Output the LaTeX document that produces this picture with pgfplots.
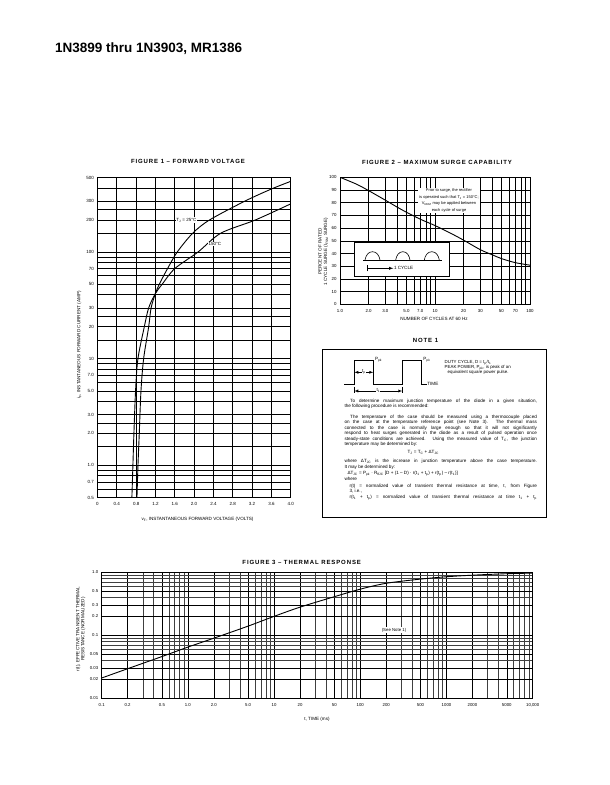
\documentclass[border=0pt]{standalone}
\usepackage{fontspec}
\setmainfont{Liberation Sans}
\newfontfamily\ttlfont{Liberation Sans}[LetterSpace=15]
\usepackage{pgfplots}
\pgfplotsset{compat=1.18}
\newcommand{\fs}[1]{\fontsize{#1}{#1}\selectfont}
\newcommand{\ttl}{\ttlfont\bfseries\fontsize{6}{7}\selectfont}
\newcommand{\nt}{\fontsize{4.6}{5}\selectfont}
\pgfplotsset{
  ds/.style={
    scale only axis, anchor=south west,
    axis line style={black, line width=0.8pt},
    grid=both,
    major grid style={black, line width=0.5pt},
    minor grid style={black, line width=0.5pt},
    major tick length=0pt, minor tick length=0pt,
    tick label style={font=\fs{4.5}},
    xticklabel style={yshift=-1.2pt},
    /pgf/number format/assume math mode=true,
  }
}
\begin{document}
\begin{tikzpicture}[x=1pt,y=1pt]
\fill[white] (0,0) rectangle (610,785);
\path[use as bounding box] (0,0) rectangle (610,785);
% page title
\node[anchor=west,font={\bfseries\fontsize{13.5}{15}\selectfont},inner sep=0] at (55,736) {1N3899 thru 1N3903, MR1386};

% ---------------- FIGURE 1 ----------------
\node[font=\ttl] at (188,624) {FIGURE 1 – FORWARD VOLTAGE};
\begin{axis}[ds, at={(97.5pt,287.5pt)}, width=193.2pt, height=320pt,
  xmin=0, xmax=4, ymode=log, ymin=0.5, ymax=500,
  xtick={0,0.4,0.8,1.2,1.6,2.0,2.4,2.8,3.2,3.6,4.0},
  xticklabels={0,0.4,0.8,1.2,1.6,2.0,2.4,2.8,3.2,3.6,4.0},
  ytick={0.5,0.7,1,2,3,5,7,10,20,30,50,70,100,200,300,500},
  yticklabels={0.5,0.7,1.0,2.0,3.0,5.0,7.0,10,20,30,50,70,100,200,300,500},
  minor ytick={0.6,0.8,0.9,1.5,2.5,4,6,8,9,15,25,40,60,80,90,150,250,400},
  major grid style={black, line width=0.65pt},
  minor grid style={black, line width=0.65pt},
]
\addplot[black, line width=0.9pt, smooth, tension=0.5] coordinates {
 (0.817,0.5)(0.838,1)(0.865,2)(0.9,5)(0.955,10)(1.06,20)(1.11,30)(1.2,41)
 (1.28,50)(1.45,70)(1.65,100)(1.97,150)(2.32,200)(3.05,300)(3.6,390)(4.0,460)};
\addplot[black, line width=0.9pt, smooth, tension=0.5] coordinates {
 (0.712,0.5)(0.733,1)(0.754,2)(0.788,5)(0.837,10)(0.97,20)(1.06,30)(1.2,41)
 (1.34,50)(1.6,70)(2.08,100)(2.55,150)(3.27,200)(4.0,283)};
\node[fill=white, inner sep=0.8pt, font=\fs{4.5}] at (axis cs:1.84,200) {T\textsubscript{J} = 25°C};
\node[fill=white, inner sep=0.8pt, font=\fs{4.5}] at (axis cs:2.43,119) {150°C};
\end{axis}
\node[rotate=90, font=\fs{4.6}] at (79.3,440) {i\textsubscript{F}, INSTANTANEOUS FORWARD CURRENT (AMP)};
\node[font=\fs{4.6}] at (197.5,266) {v\textsubscript{F}, INSTANTANEOUS FORWARD VOLTAGE (VOLTS)};

% ---------------- FIGURE 2 ----------------
\node[font=\ttl] at (437,622.7) {FIGURE 2 – MAXIMUM SURGE CAPABILITY};
\begin{axis}[ds, at={(340pt,480.7pt)}, width=190pt, height=127pt,
  xmode=log, xmin=1, xmax=100, ymin=0, ymax=100,
  xtick={1,2,3,5,7,10,20,30,50,70,100},
  xticklabels={1.0,2.0,3.0,5.0,7.0,10,20,30,50,70,100},
  minor xtick={4,6,8,9,40,60,80,90},
  ytick={0,10,20,30,40,50,60,70,80,90,100},
  yticklabels={0,10,20,30,40,50,60,70,80,90,100},
  tick label style={font=\fs{4.4}},
]
\addplot[black, line width=0.9pt, smooth] coordinates {
 (1,100)(1.5,94.5)(2,89.5)(3,82)(4,76.5)(5,72.5)(7,67)(10,62)(15,55.5)
 (20,50.5)(30,43)(40,39)(50,36)(70,32.8)(100,30.8)};
\end{axis}
\node[align=center, fill=white, inner sep=1pt, font={\fontsize{4.0}{6.7}\selectfont}] at (449,584.5)
 {Prior to surge, the rectifier\\is operated such that T\textsubscript{J} = 150°C;\\V\textsubscript{RRM} may be applied between\\each cycle of surge};
% inset
\draw[black, line width=0.8pt, fill=white] (354,542.3) rectangle (449,509);
\draw[black, line width=0.6pt] (363.3,525) -- (441.7,525);
\draw[black, line width=0.6pt] (365,525) to[out=80,in=180] (372.5,533.3) to[out=0,in=100] (380,525);
\draw[black, line width=0.6pt] (395.7,525) to[out=80,in=180] (402.9,533.3) to[out=0,in=100] (410,525);
\draw[black, line width=0.6pt] (424.3,525) to[out=80,in=180] (431.8,533.3) to[out=0,in=100] (439.3,525);
\draw[black, line width=0.5pt, |-latex] (366.7,516.7) -- (393.3,516.7);
\node[anchor=west, font=\fs{4.6}, inner sep=0.5pt] at (393.3,516.7) {1 CYCLE};
\node[rotate=90, align=center, font={\fontsize{4.6}{5.4}\selectfont}] at (323.3,533.3)
 {PERCENT OF RATED\\1 CYCLE SURGE (I\textsubscript{FSM} SURGE)};
\node[font=\fs{4.6}] at (434,466) {NUMBER OF CYCLES AT 60 Hz};

% ---------------- NOTE 1 ----------------
\node[font=\ttl] at (425.5,445) {NOTE 1};
\draw[black, line width=0.8pt] (322.7,435.7) rectangle (546.7,267.3);
\draw[black, line width=0.8pt] (344,401) -- (354.3,401) -- (354.3,424.3) -- (373.3,424.3) -- (373.3,401)
  -- (402.3,401) -- (402.3,424.3) -- (421.7,424.3) -- (421.7,401) -- (426.7,401);
\node[anchor=west, font=\nt, inner sep=0.5pt] at (426.7,401) {TIME};
\node[anchor=west, font=\nt, inner sep=0.5pt] at (374.3,425.5) {P\textsubscript{pk}};
\node[anchor=west, font=\nt, inner sep=0.5pt] at (422.7,425.5) {P\textsubscript{pk}};
\draw[black, line width=0.4pt, latex-latex] (354.3,412.7) -- (373.3,412.7);
\node[fill=white, font=\nt, inner sep=0.4pt] at (363.8,412.7) {t\textsubscript{p}};
\draw[black, line width=0.4pt] (354.3,398.3) -- (354.3,391.7) (402.3,398.3) -- (402.3,391.7);
\draw[black, line width=0.4pt, latex-latex] (354.3,394) -- (402.3,394);
\node[fill=white, font=\nt, inner sep=0.4pt] at (378.3,394) {t\textsubscript{1}};
\node[anchor=north west, align=left, font={\fontsize{4.4}{5.1}\selectfont}, inner sep=0] at (444.5,424.8)
 {DUTY CYCLE, D = t\textsubscript{p}/t\textsubscript{1}\\PEAK POWER, P\textsubscript{pk}, is peak of an\\\hspace{3pt}equivalent square power pulse.};
\begin{scope}[every node/.style={anchor=west, inner sep=0, font=\nt}]
\node at (350,384) {\makebox[186.7pt][s]{To determine maximum junction temperature of the diode in a given situation,}};
\node at (344.3,378.5) {the following procedure is recommended:};
\node at (350,368) {\makebox[186.7pt][s]{The temperature of the case should be measured using a thermocouple placed}};
\node at (344.3,362.5) {\makebox[192.4pt][s]{on the case at the temperature reference point (see Note 3). The thermal mass}};
\node at (344.3,357) {\makebox[192.4pt][s]{connected to the case is normally large enough so that it will not significantly}};
\node at (344.3,351.5) {\makebox[192.4pt][s]{respond to heat surges generated in the diode as a result of pulsed operation once}};
\node at (344.3,346) {\makebox[192.4pt][s]{steady-state conditions are achieved. Using the measured value of T\textsubscript{C}, the junction}};
\node at (344.3,340.5) {temperature may be determined by:};
\node[anchor=center] at (423.3,333) {T\textsubscript{J} = T\textsubscript{C} + ΔT\textsubscript{JC}};
\node at (344.3,323.5) {\makebox[192.4pt][s]{where ΔT\textsubscript{JC} is the increase in junction temperature above the case temperature.}};
\node at (344.3,318) {It may be determined by:};
\node at (347.3,311.5) {ΔT\textsubscript{JC} = P\textsubscript{pk} · R\textsubscript{θJC} [D + (1 – D) · r(t\textsubscript{1} + t\textsubscript{p}) + r(t\textsubscript{p}) – r(t\textsubscript{1})]};
\node at (344.3,306) {where};
\node at (349.3,299) {\makebox[187.4pt][s]{r(t) = normalized value of transient thermal resistance at time, t, from Figure}};
\node at (349.3,293.5) {3, i.e.,};
\node at (349.3,287) {\makebox[187.4pt][s]{r(t\textsubscript{1} + t\textsubscript{p}) = normalized value of transient thermal resistance at time t\textsubscript{1} + t\textsubscript{p}}};
\end{scope}

% ---------------- FIGURE 3 ----------------
\node[font=\ttl] at (301.7,222.7) {FIGURE 3 – THERMAL RESPONSE};
\begin{axis}[ds, at={(101.7pt,86.7pt)}, width=431pt, height=126pt,
  xmode=log, ymode=log, xmin=0.1, xmax=10000, ymin=0.01, ymax=1,
  xtick={0.1,0.2,0.5,1,2,5,10,20,50,100,200,500,1000,2000,5000,10000},
  xticklabels={0.1,0.2,0.5,1.0,2.0,5.0,10,20,50,100,200,500,1000,2000,5000,{10,000}},
  minor xtick={0.3,0.4,0.6,0.7,0.8,0.9,3,4,6,7,8,9,30,40,60,70,80,90,300,400,600,700,800,900,3000,4000,6000,7000,8000,9000},
  ytick={0.01,0.02,0.03,0.05,0.1,0.2,0.3,0.5,1},
  yticklabels={0.01,0.02,0.03,0.05,0.1,0.2,0.3,0.5,1.0},
  minor ytick={0.04,0.06,0.07,0.08,0.09,0.4,0.6,0.7,0.8,0.9},
  major grid style={black, line width=0.45pt},
  minor grid style={black!75, line width=0.4pt},
  tick label style={font=\fs{4.3}},
]
\addplot[black, line width=0.9pt, smooth] coordinates {
 (0.1,0.021)(0.2,0.0295)(0.5,0.046)(1,0.065)(2,0.09)(5,0.14)(10,0.2)(20,0.28)
 (50,0.41)(100,0.54)(200,0.67)(500,0.78)(1000,0.85)(2000,0.9)(5000,0.95)(10000,0.97)};
\node[fill=white, inner sep=1pt, font=\fs{4.3}] at (axis cs:246,0.121) {(See Note 1)};
\end{axis}
\node[rotate=90, align=center, font={\fontsize{4.6}{5}\selectfont}] at (80.8,156)
 {r(t), EFFECTIVE TRANSIENT THERMAL\\RESISTANCE (NORMALIZED)};
\node[font=\fs{4.6}] at (317,65.7) {t, TIME (ms)};
\end{tikzpicture}
\end{document}
